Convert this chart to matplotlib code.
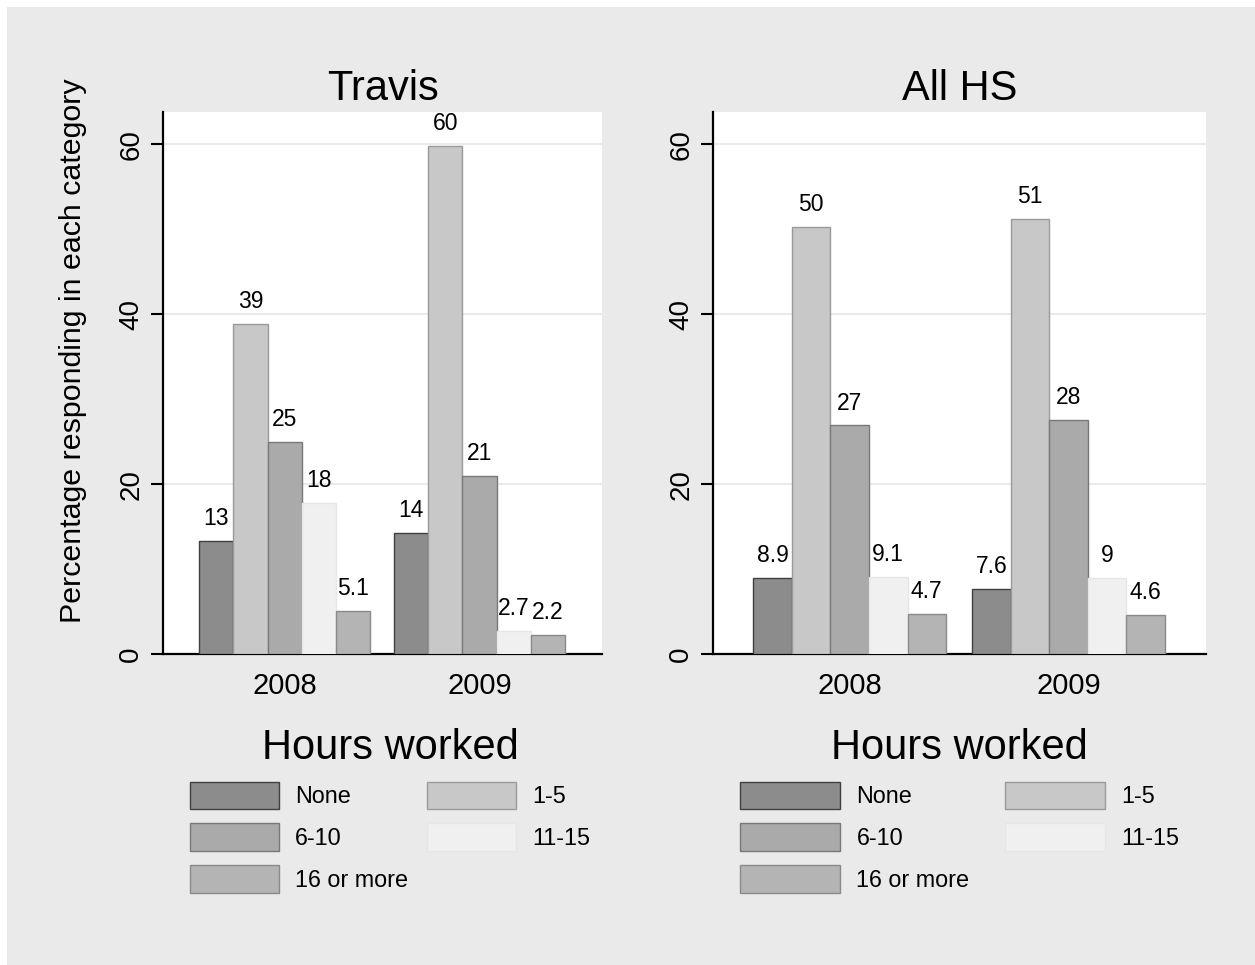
import numpy as np
import matplotlib
matplotlib.use('Agg')
from matplotlib import pyplot as plt
from matplotlib.patches import Rectangle, Patch

plt.rcParams['font.family'] = ['Liberation Sans', 'DejaVu Sans']

years = ['2008', '2009']
categories = ['None', '1-5', '6-10', '11-15', '16 or more']
panels = ['Travis', 'All HS']
travis = [[13.3, 38.8, 25.0, 17.8, 5.1],
          [14.3, 59.8, 20.9, 2.7, 2.2]]
all_hs = [[8.9, 50.3, 26.9, 9.1, 4.7],
          [7.6, 51.2, 27.6, 9.0, 4.6]]

fills = ['#8c8c8c', '#c8c8c8', '#aaaaaa', '#f0f0f0', '#b4b4b4']
edges = ['#404040', '#9a9a9a', '#787878', '#e6e6e6', '#8a8a8a']

W, H = 1255, 965
fig = plt.figure(figsize=(W / 100, H / 100), dpi=100, facecolor='white')
fig.patches.append(Rectangle((7 / W, 0), 1, 1 - 7 / H, transform=fig.transFigure,
                             facecolor='#eaeaea', edgecolor='none', zorder=-10))

# axes boxes in pixels (left, right)
boxes = [(163, 602), (713, 1206)]
top, bottom = 112, 654
group_gap = 5.68

for k, (name, vals) in enumerate(zip(panels, [travis, all_hs])):
    x0, x1 = boxes[k]
    ax = fig.add_axes([x0 / W, (H - bottom) / H, (x1 - x0) / W, (bottom - top) / H])
    ax.set_facecolor('white')
    for g, yr in enumerate(years):
        for i, cat in enumerate(categories):
            xpos = g * group_gap + (i - 2)
            v = vals[g][i]
            ax.bar(xpos, v, width=1.0, color=fills[i], edgecolor=edges[i],
                   linewidth=1.0, zorder=3)
            ax.annotate(f'{v:.2g}', (xpos, v), xytext=(0, 11.5),
                        textcoords='offset points', ha='center', va='baseline',
                        fontsize=16.5, zorder=4)
    ax.set_xlim(-3.55, 9.25)
    ax.set_ylim(0, 63.8)
    ax.set_xticks([0, group_gap])
    ax.set_xticklabels(years, fontsize=21)
    ax.set_yticks([0, 20, 40, 60])
    ax.tick_params(axis='x', length=0, pad=13)
    ax.tick_params(axis='y', length=8.5, width=1.5, labelsize=20, pad=5,
                   labelrotation=90)
    for t in ax.get_yticklabels():
        t.set_va('center')
    for yv in [20, 40, 60]:
        ax.axhline(yv, color='#eaeaea', linewidth=1.5, zorder=1)
    for s in ['top', 'right']:
        ax.spines[s].set_visible(False)
    for s in ['left', 'bottom']:
        ax.spines[s].set_linewidth(1.6)
        ax.spines[s].set_color('black')
    ax.set_title(name, fontsize=30, pad=9)
    if k == 0:
        ax.set_ylabel('Percentage responding in each category', fontsize=21.9,
                      va='center', ha='center')
        ax.yaxis.set_label_coords((73 - x0) / (x1 - x0), 0.56)

    handles = [Patch(facecolor=fills[i], edgecolor=edges[i], linewidth=1.0)
               for i in range(5)]
    order = [0, 2, 4, 1, 3]
    fig.legend([handles[i] for i in order], [categories[i] for i in order],
               ncol=2, loc='upper center',
               bbox_to_anchor=((x0 + x1) / 2 / W + (0.006 if k == 0 else 0), 1 - 716 / H),
               frameon=False, fontsize=16.8, title='Hours worked',
               title_fontsize=30, handlelength=3.8 if k == 0 else 4.3,
               handleheight=1.45, handletextpad=0.7,
               labelspacing=0.6, columnspacing=0.8 if k == 0 else 1.5,
               borderpad=0)

fig.savefig('out.png', dpi=100, facecolor=fig.get_facecolor())
